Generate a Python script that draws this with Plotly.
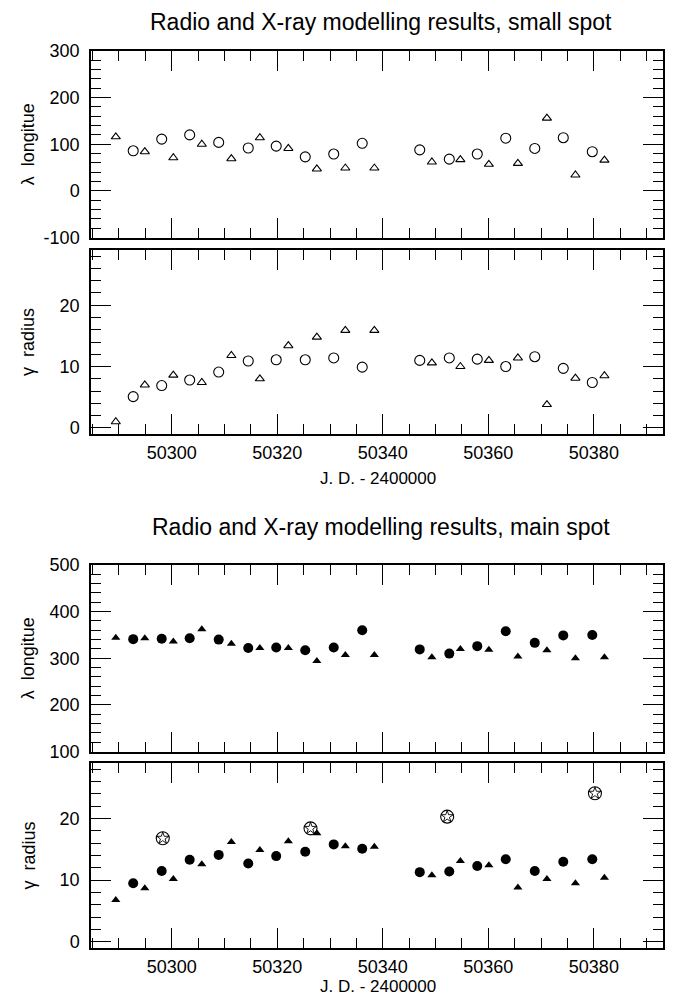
import plotly.graph_objects as go

# The page body keeps the browser's 8 px margin, so the figure is drawn
# 8 px smaller on each side and all reference pixel positions are shifted.
PAGE_W, PAGE_H = 679, 1004
OFF = 8
W, H = PAGE_W - 2 * OFF, PAGE_H - 2 * OFF

# ---------------- data ----------------
circle_jd = [50292.7, 50298.1, 50303.4, 50308.9, 50314.5, 50319.8, 50325.3, 50330.7,
             50336.1, 50347.0, 50352.6, 50357.9, 50363.3, 50368.8, 50374.2, 50379.7]
triangle_jd = [50289.4, 50294.9, 50300.3, 50305.7, 50311.3, 50316.7, 50322.1, 50327.5,
               50332.9, 50338.4, 50349.3, 50354.7, 50360.1, 50365.6, 50371.1, 50376.5, 50382.0]

small_lambda_circle = [86, 111, 120, 104, 92, 96, 73, 79, 102, 88, 68, 79, 113, 91, 114, 84]
small_lambda_triangle = [116, 84, 71, 100, 69, 114, 91, 47, 49, 49, 62, 67, 57, 59, 156, 34, 66]

small_gamma_circle = [5.1, 6.9, 7.8, 9.1, 10.9, 11.1, 11.1, 11.4, 9.9, 11.0, 11.4, 11.2, 10.0, 11.6, 9.7, 7.4]
small_gamma_triangle = [1.0, 7.0, 8.6, 7.4, 11.8, 8.0, 13.4, 14.8, 15.9, 15.9, 10.6, 10.0, 11.0, 11.4, 3.8, 8.1, 8.5]

main_lambda_circle = [341, 342, 343, 340, 322, 323, 317, 323, 360, 319, 310, 326, 358, 333, 349, 350]
main_lambda_triangle = [344, 343, 336, 362, 331, 322, 322, 294, 307, 307, 302, 320, 318, 304, 317, 300, 302]

main_gamma_circle = [9.5, 11.5, 13.3, 14.1, 12.7, 13.9, 14.6, 15.8, 15.1, 11.3, 11.4, 12.3, 13.4, 11.5, 13.0, 13.4]
main_gamma_triangle = [6.8, 8.7, 10.2, 12.6, 16.2, 14.9, 16.3, 17.6, 15.5, 15.4, 10.8, 13.1, 12.4, 8.8, 10.2, 9.5, 10.4]

star_jd = [50298.3, 50326.3, 50352.2, 50380.2]
star_gamma = [16.8, 18.4, 20.3, 24.1]

lambda_small_ticks = [-100, 0, 100, 200, 300]
lambda_small_labels = ["-100", "0", "100", "200", "300"]
lambda_main_ticks = [100, 200, 300, 400, 500]
lambda_main_labels = ["100", "200", "300", "400", "500"]
gamma_ticks = [0, 10, 20]
gamma_labels = ["0", "10", "20"]
jd_ticks = [50300, 50320, 50340, 50360, 50380]
jd_labels = ["50300", "50320", "50340", "50360", "50380"]

titles = ["Radio and X-ray modelling results, small spot",
          "Radio and X-ray modelling results, main spot"]
y_titles = ["\u03bb\u00a0\u00a0longitue", "\u03b3\u00a0\u00a0radius",
            "\u03bb\u00a0\u00a0longitue", "\u03b3\u00a0\u00a0radius"]
x_title = "J. D. - 2400000"

# ---------------- layout helpers (reference page pixels -> paper) ----------------
def px_x(p):
    return (p - OFF) / W

def px_y(p):
    return 1 - (p - OFF) / H

FONT = "Liberation Sans, Arial, Helvetica, sans-serif"
x_range = [50284.7, 50393.1]
x_dom = [px_x(91), px_x(663)]

# panels: (top px, bottom px, y range, tickvals, ticktext, minor dtick, x labels, x-title px)
panels = [
    (51, 237.5, [-100, 300], lambda_small_ticks, lambda_small_labels, 20, False, None),
    (250, 434, [-1, 29], gamma_ticks, gamma_labels, 2, True, 478),
    (565, 751.5, [100, 500], lambda_main_ticks, lambda_main_labels, 20, False, None),
    (763, 948, [-1, 29], gamma_ticks, gamma_labels, 2, True, 986),
]

fig = go.Figure()

def add(x, y, k, symbol, size, lw=1.1):
    fig.add_trace(go.Scatter(
        x=x, y=y, mode="markers",
        xaxis="x" if k == 1 else f"x{k}", yaxis="y" if k == 1 else f"y{k}",
        marker=dict(symbol=symbol, size=size, color="black",
                    line=dict(color="black", width=lw)),
        showlegend=False, hoverinfo="skip"))

add(circle_jd, small_lambda_circle, 1, "circle-open", 10)
add(triangle_jd, small_lambda_triangle, 1, "triangle-up-open", 8)
add(circle_jd, small_gamma_circle, 2, "circle-open", 10)
add(triangle_jd, small_gamma_triangle, 2, "triangle-up-open", 8)
add(circle_jd, main_lambda_circle, 3, "circle", 10, 0)
add(triangle_jd, main_lambda_triangle, 3, "triangle-up", 8, 0)
add(circle_jd, main_gamma_circle, 4, "circle", 10, 0)
add(triangle_jd, main_gamma_triangle, 4, "triangle-up", 8, 0)
add(star_jd, star_gamma, 4, "circle-open", 13, 1.1)
add(star_jd, star_gamma, 4, "star-open", 9, 0.9)

layout = dict(
    template="none",
    width=W, height=H, autosize=False,
    margin=dict(l=0, r=0, t=0, b=0, pad=0),
    paper_bgcolor="white", plot_bgcolor="white",
    font=dict(family=FONT, size=18, color="black"),
    showlegend=False,
)

annotations = []
for i, (top, bot, yr, tv, tt, mdt, showx, xt_y) in enumerate(panels):
    k = i + 1
    xn = "xaxis" if k == 1 else f"xaxis{k}"
    yn = "yaxis" if k == 1 else f"yaxis{k}"
    layout[xn] = dict(
        domain=x_dom, range=x_range, anchor="y" if k == 1 else f"y{k}", automargin=False,
        showgrid=False, zeroline=False, showline=True, linecolor="black", linewidth=1.5,
        mirror="allticks", ticks="inside", ticklen=20, tickwidth=1, tickcolor="black",
        tickmode="array", tickvals=jd_ticks, ticktext=jd_labels,
        showticklabels=showx, ticklabelstandoff=2,
        tickfont=dict(family=FONT, size=18, color="black"),
        minor=dict(ticks="inside", ticklen=10, tickwidth=1, tickcolor="black",
                   tick0=50300, dtick=5, showgrid=False),
    )
    layout[yn] = dict(
        domain=[px_y(bot), px_y(top)], range=yr, anchor="x" if k == 1 else f"x{k}",
        automargin=False,
        showgrid=False, zeroline=False, showline=True, linecolor="black", linewidth=1.5,
        mirror="allticks", ticks="inside", ticklen=20, tickwidth=1, tickcolor="black",
        tickmode="array", tickvals=tv, ticktext=tt, ticklabelstandoff=6,
        tickfont=dict(family=FONT, size=18, color="black"),
        minor=dict(ticks="inside", ticklen=10, tickwidth=1, tickcolor="black",
                   tick0=0, dtick=mdt, showgrid=False),
    )
    annotations.append(dict(
        text=y_titles[i], x=px_x(28), y=px_y((top + bot) / 2), xref="paper", yref="paper",
        xanchor="center", yanchor="middle", textangle=-90, showarrow=False,
        font=dict(family=FONT, size=18, color="black")))
    if showx:
        annotations.append(dict(
            text=x_title, x=px_x(378), y=px_y(xt_y), xref="paper", yref="paper",
            xanchor="center", yanchor="middle", showarrow=False,
            font=dict(family=FONT, size=17, color="black")))

for t, yc in zip(titles, [22, 527]):
    annotations.append(dict(
        text=t, x=px_x(381), y=px_y(yc), xref="paper", yref="paper",
        xanchor="center", yanchor="middle", showarrow=False,
        font=dict(family=FONT, size=23, color="black")))

layout["annotations"] = annotations
fig.update_layout(**layout)
fig.write_html("out.html")
